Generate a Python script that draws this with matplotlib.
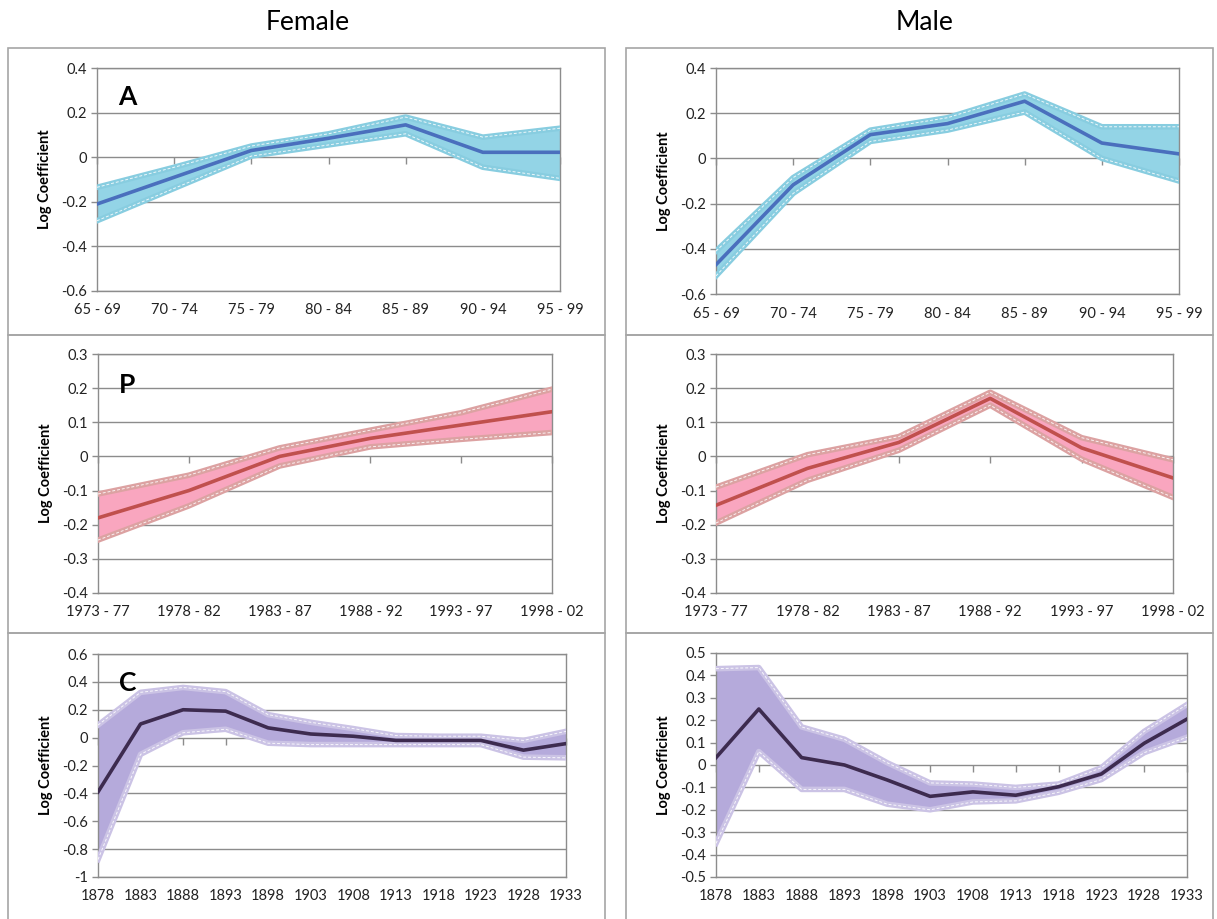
"""Age-period-cohort log coefficients by sex, with confidence bands."""

import matplotlib.pyplot as plt
from matplotlib.patches import Rectangle
from matplotlib.ticker import FuncFormatter, MultipleLocator, NullFormatter

plt.rcParams["font.family"] = ["Lato", "DejaVu Sans"]

# ---- data -----------------------------------------------------------------
age_groups = ["65 - 69", "70 - 74", "75 - 79", "80 - 84", "85 - 89", "90 - 94", "95 - 99"]
period_groups = ["1973 - 77", "1978 - 82", "1983 - 87", "1988 - 92", "1993 - 97", "1998 - 02"]
cohorts = ["1878", "1883", "1888", "1893", "1898", "1903",
           "1908", "1913", "1918", "1923", "1928", "1933"]

female_age_mean = [-0.21, -0.09, 0.03, 0.085, 0.145, 0.022, 0.022]
female_age_upper = [-0.135, -0.045, 0.05, 0.105, 0.18, 0.09, 0.13]
female_age_lower = [-0.285, -0.14, 0.005, 0.055, 0.105, -0.045, -0.095]

male_age_mean = [-0.47, -0.117, 0.105, 0.154, 0.253, 0.068, 0.02]
male_age_upper = [-0.41, -0.085, 0.125, 0.18, 0.285, 0.14, 0.14]
male_age_lower = [-0.52, -0.155, 0.075, 0.125, 0.205, 0.0, -0.1]

female_period_mean = [-0.18, -0.10, 0.0, 0.053, 0.092, 0.131]
female_period_upper = [-0.11, -0.055, 0.025, 0.077, 0.128, 0.197]
female_period_lower = [-0.245, -0.145, -0.028, 0.028, 0.05, 0.07]

male_period_mean = [-0.143, -0.035, 0.041, 0.17, 0.025, -0.063]
male_period_upper = [-0.09, 0.005, 0.058, 0.188, 0.055, -0.01]
male_period_lower = [-0.195, -0.07, 0.018, 0.15, -0.008, -0.12]

female_cohort_mean = [-0.39, 0.098, 0.20, 0.19, 0.07, 0.026,
                      0.01, -0.02, -0.02, -0.02, -0.09, -0.043]
female_cohort_upper = [0.09, 0.325, 0.36, 0.33, 0.165, 0.11,
                       0.065, 0.015, 0.01, 0.01, -0.02, 0.045]
female_cohort_lower = [-0.875, -0.12, 0.035, 0.06, -0.04, -0.05,
                       -0.05, -0.05, -0.05, -0.05, -0.14, -0.145]

male_cohort_mean = [0.033, 0.25, 0.033, 0.0, -0.067, -0.14,
                    -0.12, -0.135, -0.097, -0.04, 0.097, 0.205]
male_cohort_upper = [0.43, 0.435, 0.17, 0.115, 0.01, -0.08,
                     -0.085, -0.1, -0.085, -0.012, 0.15, 0.27]
male_cohort_lower = [-0.35, 0.06, -0.109, -0.109, -0.175, -0.2,
                     -0.165, -0.16, -0.122, -0.065, 0.055, 0.124]

# ---- styling ----------------------------------------------------------------
W, H = 1217, 919
GRID = "#8c8c8c"
BOX = "#a6a6a6"

styles = {
    "A": dict(fill="#93d4e6", edge="#88cde0", line="#4a6fbd"),
    "P": dict(fill="#f9a6bf", edge="#dca2a2", line="#c0504d"),
    "C": dict(fill="#b5aadb", edge="#cbc3e5", line="#3d2b4f"),
}


def px_axes(fig, left, top, right, bottom):
    """Add an axes positioned by pixel edges (origin top-left)."""
    return fig.add_axes([left / W, 1 - bottom / H, (right - left) / W, (bottom - top) / H])


def fmt_tick(v, _pos):
    v = round(v, 2)
    if abs(v) < 1e-9:
        return "0"
    return f"{v:g}"


def draw_panel(ax, labels, mean, upper, lower, style, ylim, step, letter=None):
    x = list(range(len(labels)))
    ax.fill_between(x, lower, upper, color=style["fill"], lw=0, zorder=2)
    for bound in (upper, lower):
        ax.plot(x, bound, color=style["edge"], lw=4, solid_joinstyle="round", zorder=3)
        ax.plot(x, bound, color="white", lw=0.7, ls=(0, (3, 2)), alpha=0.85, zorder=4)
    ax.plot(x, mean, color=style["line"], lw=2.6, zorder=5)

    ax.set_xlim(0, len(labels) - 1)
    ax.set_ylim(*ylim)
    ax.yaxis.set_major_locator(MultipleLocator(step))
    ax.yaxis.set_major_formatter(FuncFormatter(fmt_tick))
    ax.grid(axis="y", color=GRID, lw=1.0, zorder=1)
    ax.set_axisbelow(True)

    ax.set_xticks(x)
    ax.set_xticklabels(labels)
    ax.tick_params(axis="x", length=0, pad=9, labelsize=10.5, colors="#222222")
    ax.tick_params(axis="y", length=4, width=1, color=GRID, pad=3, labelsize=10.5,
                   labelcolor="#222222", direction="out")
    for spine in ax.spines.values():
        spine.set_color(GRID)
        spine.set_linewidth(1.0)

    # category tick marks hang below the zero line, as in the spreadsheet chart
    zero_frac = (0 - ylim[0]) / (ylim[1] - ylim[0])
    sec = ax.secondary_xaxis(zero_frac)
    sec.set_xticks(x)
    sec.xaxis.set_major_formatter(NullFormatter())
    sec.tick_params(axis="x", length=5, width=1, color=GRID, direction="in",
                    labelbottom=False, labeltop=False)
    for spine in sec.spines.values():
        spine.set_visible(False)

    ax.set_ylabel("Log Coefficient", fontsize=10.5, fontweight="bold", labelpad=7)
    if letter is not None:
        ax.text(0.045, 0.87, letter, transform=ax.transAxes, fontsize=19,
                fontweight="bold", va="center", ha="left")


fig = plt.figure(figsize=(W / 100, H / 100), dpi=100)

# panel frames
for x0, x1 in ((8, 605), (626, 1213)):
    for y0, y1 in ((48, 335), (335, 633), (633, 922)):
        fig.add_artist(Rectangle((x0 / W, 1 - y1 / H), (x1 - x0) / W, (y1 - y0) / H,
                                 transform=fig.transFigure, fill=False,
                                 edgecolor=BOX, lw=1.2))

fig.text(308 / W, 1 - 22 / H, "Female", ha="center", va="center", fontsize=19)
fig.text(925 / W, 1 - 22 / H, "Male", ha="center", va="center", fontsize=19)

ax = px_axes(fig, 97, 68, 560, 291)
draw_panel(ax, age_groups, female_age_mean, female_age_upper, female_age_lower,
           styles["A"], (-0.6, 0.4), 0.2, letter="A")
ax = px_axes(fig, 716, 68, 1179, 294)
draw_panel(ax, age_groups, male_age_mean, male_age_upper, male_age_lower,
           styles["A"], (-0.6, 0.4), 0.2)

ax = px_axes(fig, 98, 354, 552, 593)
draw_panel(ax, period_groups, female_period_mean, female_period_upper, female_period_lower,
           styles["P"], (-0.4, 0.3), 0.1, letter="P")
ax = px_axes(fig, 716, 354, 1173, 593)
draw_panel(ax, period_groups, male_period_mean, male_period_upper, male_period_lower,
           styles["P"], (-0.4, 0.3), 0.1)

ax = px_axes(fig, 98, 654, 566, 877)
draw_panel(ax, cohorts, female_cohort_mean, female_cohort_upper, female_cohort_lower,
           styles["C"], (-1.0, 0.6), 0.2, letter="C")
ax = px_axes(fig, 716, 653, 1187, 877)
draw_panel(ax, cohorts, male_cohort_mean, male_cohort_upper, male_cohort_lower,
           styles["C"], (-0.5, 0.5), 0.1)

fig.savefig("out.png", dpi=100)
plt.close(fig)
